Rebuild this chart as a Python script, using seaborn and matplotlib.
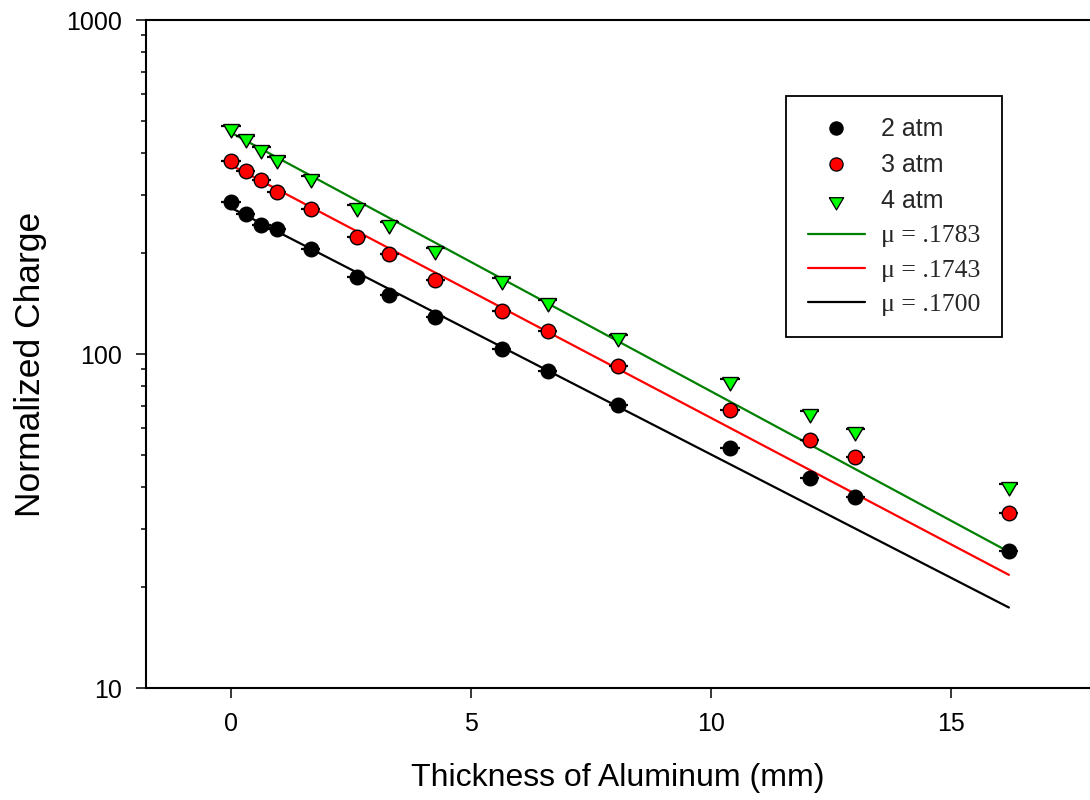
import numpy as np
import pandas as pd
import matplotlib
matplotlib.use("Agg")
import matplotlib.pyplot as plt
from matplotlib.lines import Line2D
import seaborn as sns

# Aluminum absorber thickness (mm) and normalized charge at three gas pressures
thickness = [0.0, 0.31, 0.63, 0.95, 1.66, 2.62, 3.30, 4.26, 5.64, 6.60, 8.07,
             10.40, 12.06, 13.01, 16.21]
charge_2atm = [285, 263, 243, 236, 206, 170, 150, 129, 103.5, 88.8, 70.4,
               52.2, 42.4, 37.2, 25.8]
charge_3atm = [379, 354, 332, 306, 271, 224.5, 199, 166.6, 134.8, 117.4, 92.2,
               68.0, 55.3, 49.3, 33.4]
charge_4atm = [480, 448, 416, 388, 340, 280, 248, 207, 169, 145, 114,
               84, 67.6, 59.5, 40.8]
thickness_err = 0.2

pressures = ["2 atm", "3 atm", "4 atm"]
# exponential attenuation fits N(x) = N0 * exp(-mu * x)
mu = [0.1700, 0.1743, 0.1783]
n0 = [274, 368, 460]
fit_labels = ["\u03bc = .1700", "\u03bc = .1743", "\u03bc = .1783"]

face_colors = ["#000000", "#ff0000", "#00ff00"]
line_colors = ["#000000", "#ff0000", "#008000"]

# downward triangle whose top edge sits near the data point
tri = [(-1, 0.25), (1, 0.25), (0, -1.45), (-1, 0.25)]
markers = ["o", "o", tri]
sizes = [110, 110, 270]

df = pd.DataFrame({
    "thickness": thickness * 3,
    "charge": charge_2atm + charge_3atm + charge_4atm,
    "pressure": [p for p in pressures for _ in thickness],
})

sns.set_theme(style="ticks")
plt.rcParams["font.family"] = ["Liberation Sans", "DejaVu Sans"]

fig = plt.figure(figsize=(10.9, 8.0), dpi=100)
ax = fig.add_axes([146 / 1090, 112 / 800, 944 / 1090, 668 / 800])

x_fit = np.linspace(0, max(thickness), 200)
fit_handles = []
for m, a, lab, col in zip(mu, n0, fit_labels, line_colors):
    fit_df = pd.DataFrame({"thickness": x_fit, "charge": a * np.exp(-m * x_fit)})
    sns.lineplot(data=fit_df, x="thickness", y="charge", color=col, lw=1.6,
                 ax=ax, zorder=2, legend=False)
    fit_handles.append(Line2D([], [], color=col, lw=1.6, label=lab))

point_handles = []
for p, fc, mk, s in zip(pressures, face_colors, markers, sizes):
    sub = df[df["pressure"] == p]
    ax.errorbar(sub["thickness"], sub["charge"], xerr=thickness_err, fmt="none",
                ecolor="black", elinewidth=1.6, capsize=0, zorder=3)
    sns.scatterplot(data=sub, x="thickness", y="charge", marker=mk, s=s,
                    color=fc, edgecolor="black", linewidth=1.0, ax=ax,
                    zorder=4, legend=False)
    point_handles.append(Line2D([], [], ls="none", marker=mk,
                                markersize=9.5 if mk == "o" else 15,
                                markerfacecolor=fc, markeredgecolor="black",
                                markeredgewidth=0.9, label=p))

ax.set_yscale("log")
ax.set_ylim(10, 1000)
ax.set_xlim(-1.77, 17.9)
ax.set_xticks([0, 5, 10, 15])
ax.set_xticklabels(["0", "5", "10", "15"])
ax.set_yticks([10, 100, 1000])
ax.set_yticklabels(["10", "100", "1000"])
ax.yaxis.set_minor_locator(matplotlib.ticker.LogLocator(base=10, subs=np.arange(2, 10)))
ax.yaxis.set_minor_formatter(matplotlib.ticker.NullFormatter())
ax.xaxis.set_minor_locator(matplotlib.ticker.NullLocator())

ax.tick_params(axis="both", which="major", direction="out", length=7, width=1.1,
               labelsize=18, pad=10, color="black", labelcolor="black")
ax.tick_params(axis="y", which="minor", direction="out", length=3.6, width=1.1,
               color="black")
for side in ["left", "bottom", "top"]:
    ax.spines[side].set_color("black")
    ax.spines[side].set_linewidth(1.5)
ax.spines["right"].set_visible(False)

ax.set_xlabel("Thickness of Aluminum (mm)", fontsize=23, labelpad=20, color="black")
ax.set_ylabel("Normalized Charge", fontsize=25.5, labelpad=14, color="black")
ax.yaxis.label.set_y(0.485)

handles = point_handles + fit_handles[::-1]
leg = ax.legend(handles=handles, loc="upper left",
                bbox_to_anchor=(786 / 1090, 1 - 96 / 800),
                bbox_transform=fig.transFigure, fontsize=18, frameon=True,
                fancybox=False, framealpha=1, edgecolor="black",
                handlelength=2.3, handletextpad=0.65, labelspacing=0.47,
                borderpad=0.86, borderaxespad=0)
leg.get_frame().set_linewidth(1.3)
for txt in leg.get_texts()[3:]:
    txt.set_fontfamily(["Liberation Serif", "DejaVu Serif"])
    txt.set_fontsize(18.5)

fig.savefig("out.png", dpi=100, facecolor="white")
